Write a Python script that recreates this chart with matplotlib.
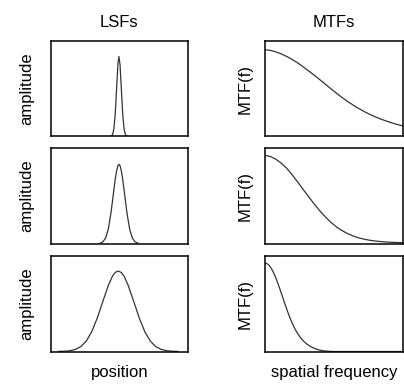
import matplotlib
matplotlib.use("Agg")
import matplotlib.pyplot as plt

plt.rcParams['font.family'] = ['Liberation Sans', 'DejaVu Sans']

# line spread functions (x and y as fraction of the box)
lsf_narrow_x = [0.44, 0.45, 0.46, 0.47, 0.48, 0.49, 0.497, 0.505, 0.515, 0.525, 0.535, 0.545, 0.555]
lsf_narrow_y = [0.003, 0.018, 0.078, 0.236, 0.505, 0.766, 0.833, 0.746, 0.475, 0.214, 0.068, 0.016, 0.003]

lsf_mid_x = [0.36, 0.38, 0.40, 0.42, 0.44, 0.46, 0.47, 0.48, 0.49, 0.497, 0.505, 0.515,
             0.525, 0.535, 0.555, 0.575, 0.595, 0.615, 0.635]
lsf_mid_y = [0.004, 0.017, 0.057, 0.154, 0.329, 0.56, 0.672, 0.761, 0.815, 0.826, 0.811, 0.753,
             0.661, 0.548, 0.319, 0.146, 0.054, 0.016, 0.004]

lsf_wide_x = [0.06, 0.10, 0.14, 0.18, 0.22, 0.26, 0.30, 0.34, 0.38, 0.42, 0.45, 0.47, 0.492,
              0.515, 0.535, 0.565, 0.605, 0.645, 0.685, 0.725, 0.765, 0.805, 0.845, 0.885, 0.925]
lsf_wide_y = [0.001, 0.003, 0.008, 0.021, 0.051, 0.109, 0.209, 0.351, 0.523, 0.69, 0.786, 0.825, 0.84,
              0.823, 0.783, 0.686, 0.518, 0.347, 0.205, 0.107, 0.05, 0.021, 0.008, 0.003, 0.001]

# modulation transfer functions
mtf_wide_x = [0.00, 0.04, 0.08, 0.12, 0.16, 0.20, 0.24, 0.28, 0.32, 0.36, 0.40, 0.44, 0.48,
              0.52, 0.56, 0.60, 0.64, 0.68, 0.72, 0.76, 0.80, 0.84, 0.88, 0.92, 0.96, 1.00]
mtf_wide_y = [0.905, 0.898, 0.882, 0.860, 0.833, 0.801, 0.765, 0.723, 0.680, 0.636, 0.590, 0.543, 0.496,
              0.450, 0.406, 0.365, 0.327, 0.292, 0.260, 0.231, 0.205, 0.182, 0.161, 0.142, 0.125, 0.110]

mtf_mid_x = [0.00, 0.04, 0.08, 0.12, 0.16, 0.20, 0.24, 0.28, 0.32, 0.36, 0.40, 0.44, 0.48,
             0.52, 0.56, 0.60, 0.64, 0.68, 0.72, 0.76, 0.80, 0.85, 0.90, 0.95, 1.00]
mtf_mid_y = [0.920, 0.907, 0.878, 0.836, 0.781, 0.711, 0.636, 0.558, 0.482, 0.407, 0.337, 0.275, 0.219,
             0.171, 0.134, 0.103, 0.078, 0.059, 0.045, 0.034, 0.026, 0.019, 0.014, 0.011, 0.009]

mtf_narrow_x = [0.000, 0.015, 0.030, 0.045, 0.060, 0.075, 0.090, 0.105, 0.120, 0.135, 0.150, 0.165,
                0.180, 0.200, 0.220, 0.240, 0.260, 0.280, 0.300, 0.330, 0.360, 0.390, 0.420, 0.460,
                0.500, 1.000]
mtf_narrow_y = [0.925, 0.915, 0.898, 0.868, 0.828, 0.780, 0.724, 0.664, 0.601, 0.537, 0.474, 0.412,
                0.354, 0.286, 0.228, 0.180, 0.140, 0.108, 0.082, 0.052, 0.031, 0.017, 0.008, 0.002,
                0.0, 0.0]

lsfs = [(lsf_narrow_x, lsf_narrow_y), (lsf_mid_x, lsf_mid_y), (lsf_wide_x, lsf_wide_y)]
mtfs = [(mtf_wide_x, mtf_wide_y), (mtf_mid_x, mtf_mid_y), (mtf_narrow_x, mtf_narrow_y)]

fig = plt.figure(figsize=(4.04, 3.85), dpi=100)

row_bottoms = [0.6455, 0.3675, 0.087]
h = 0.249
left_x, right_x, w = 0.125, 0.656, 0.341

def style(ax):
    ax.set_xlim(0, 1)
    ax.set_ylim(0, 1)
    ax.set_xticks([])
    ax.set_yticks([])
    for s in ax.spines.values():
        s.set_linewidth(1.1)
        s.set_color('black')

for i, yb in enumerate(row_bottoms):
    axl = fig.add_axes([left_x, yb, w, h])
    axl.plot(*lsfs[i], color='#333333', lw=0.9)
    style(axl)
    axl.set_ylabel('amplitude', fontsize=12, labelpad=12)

    axr = fig.add_axes([right_x, yb, w, h])
    axr.plot(*mtfs[i], color='#333333', lw=0.9)
    style(axr)
    axr.set_ylabel('MTF(f)', fontsize=12, labelpad=9)

    if i == 0:
        axl.set_title('LSFs', fontsize=12, pad=10)
        axr.set_title('MTFs', fontsize=12, pad=10)
    if i == 2:
        axl.set_xlabel('position', fontsize=12, labelpad=10)
        axr.set_xlabel('spatial frequency', fontsize=12, labelpad=10)

fig.savefig('out.png', dpi=100)
